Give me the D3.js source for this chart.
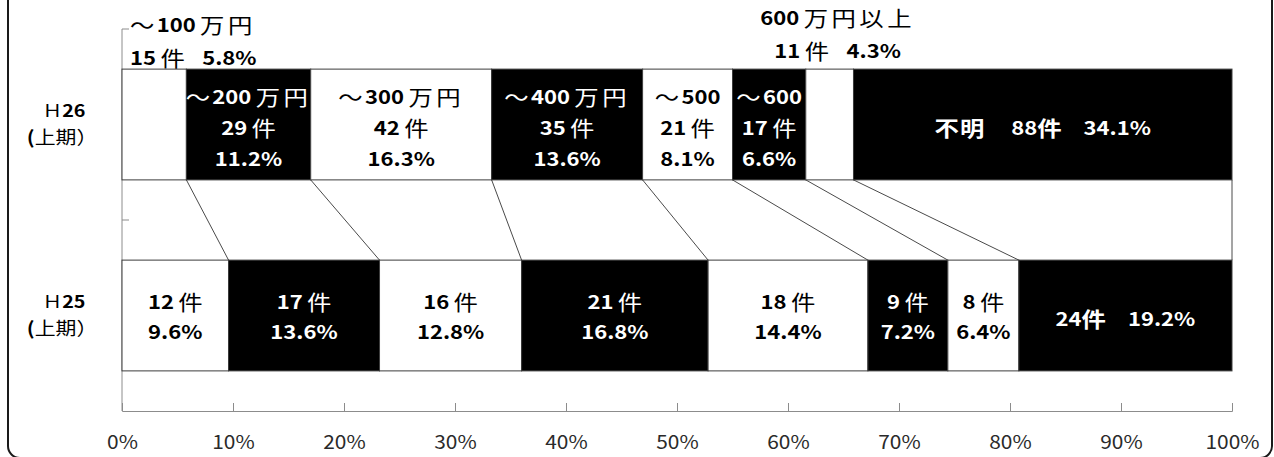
<!DOCTYPE html>
<html>
<head>
<meta charset="utf-8">
<script src="https://cdn.jsdelivr.net/npm/d3@7"></script>
<style>
  html, body { margin: 0; padding: 0; background: #fff; }
  svg { display: block; }
  text { font-family: "Noto Sans CJK JP", "Noto Sans", sans-serif; }
</style>
</head>
<body>
<svg id="chart" width="1274" height="457"></svg>
<script>
// Income bands (keys of the stack) and the two half-year periods
const categories = ["H26", "H25"];
const categoryLabels = ["Ｈ26", "Ｈ25"];
const bandNames = ["〜100万円", "〜200万円", "〜300万円", "〜400万円", "〜500万円", "〜600万円", "600万円以上", "不明"];

// Cases and shares per band
const h26Counts = [15, 29, 42, 35, 21, 17, 11, 88];
const h26Shares = [5.8, 11.2, 16.3, 13.6, 8.1, 6.6, 4.3, 34.1];
const h25Counts = [12, 17, 16, 21, 18, 9, 8, 24];
const h25Shares = [9.6, 13.6, 12.8, 16.8, 14.4, 7.2, 6.4, 19.2];

// Percentage axis ticks
const tickValues = [0, 10, 20, 30, 40, 50, 60, 70, 80, 90, 100];

const svg = d3.select("#chart");
const plotL = 122, plotR = 1232, plotT = 29, plotB = 411;
const SX = 1.16; // horizontal text stretch

// outer rounded frame
svg.append("rect")
  .attr("x", 8).attr("y", -30).attr("width", 1264).attr("height", 488)
  .attr("rx", 12).attr("ry", 12)
  .attr("fill", "none").attr("stroke", "#1a1a1a").attr("stroke-width", 2);

const x = d3.scaleLinear().domain([0, 100]).range([plotL, plotR]);
const y = d3.scaleBand().domain(categories).range([plotT, plotB])
  .paddingInner(0.42).paddingOuter(0.21);
const bw = y.bandwidth();

const rows = [
  Object.fromEntries(bandNames.map((k, i) => [k, h26Shares[i]])),
  Object.fromEntries(bandNames.map((k, i) => [k, h25Shares[i]]))
];
rows[0].cat = "H26"; rows[1].cat = "H25";

const stack = d3.stack().keys(bandNames)(rows);

// value axis along the bottom, ticks pointing into the plot
const axisG = svg.append("g").attr("transform", `translate(0,${plotB})`)
  .call(d3.axisBottom(x).tickValues(tickValues).tickSize(-8)
    .tickFormat(d => d + "%"));
axisG.select(".domain").attr("stroke", "#8c8c8c");
axisG.selectAll(".tick line").attr("stroke", "#8c8c8c");
axisG.selectAll(".tick text").remove();
axisG.selectAll(".tick").append("text")
  .attr("transform", "translate(0,30) scale(1.1,1)")
  .attr("text-anchor", "middle").attr("dominant-baseline", "central")
  .attr("font-size", 19).attr("fill", "#2a2a2a")
  .text(d => d + "%");

// category axis on the left with boundary ticks
svg.append("line").attr("x1", plotL).attr("x2", plotL).attr("y1", plotT).attr("y2", plotB)
  .attr("stroke", "#8c8c8c");
[0, 1].forEach(i => {
  const yy = plotT + i * y.step();
  svg.append("line").attr("x1", plotL).attr("x2", plotL + 7).attr("y1", yy).attr("y2", yy)
    .attr("stroke", "#8c8c8c");
});

// series lines joining segment ends of the two bars
stack.forEach(s => {
  svg.append("line")
    .attr("x1", x(s[0][1])).attr("y1", y("H26") + bw)
    .attr("x2", x(s[1][1])).attr("y2", y("H25"))
    .attr("stroke", "#4a4a4a").attr("stroke-width", 1);
});

// bar segments, alternating white / black
stack.forEach((s, i) => {
  svg.append("g").selectAll("rect").data(s).join("rect")
    .attr("x", d => x(d[0]))
    .attr("y", d => y(d.data.cat))
    .attr("width", d => x(d[1]) - x(d[0]))
    .attr("height", bw)
    .attr("fill", i % 2 ? "#000" : "#fff")
    .attr("stroke", "#3c3c3c").attr("stroke-width", 1);
});

// text made of runs: [text, bold, size, letterSpacing]
function label(px, py, runs, color, anchor) {
  const t = svg.append("text")
    .attr("transform", `translate(${px},${py}) scale(${SX},1)`)
    .attr("text-anchor", anchor || "middle")
    .attr("dominant-baseline", "central")
    .attr("fill", color);
  runs.forEach(r => {
    const ts = t.append("tspan").attr("font-weight", r[1] ? "bold" : "normal")
      .attr("font-size", r[2] || 19).text(r[0]);
    if (r[3]) ts.attr("letter-spacing", r[3]);
  });
  return t;
}
const CJK = 21;
const GAP = ["\u2009", false, 19];
function nameRuns(name, short) {
  const m = name.match(/^(〜?)(\d+)(.*)$/);
  const runs = [];
  if (m[1]) runs.push([m[1], false, CJK, 2]);
  runs.push([m[2], true, 19]);
  const rest = short ? "" : m[3];
  if (rest) runs.push(GAP, [rest, false, CJK, 3]);
  return runs;
}
function countRuns(n, boldUnit) {
  return [[String(n), true, 19], boldUnit ? ["", false, 1] : GAP, ["件", !!boldUnit, CJK]];
}
function shareRuns(p) { return [[p.toFixed(1) + "%", true, 19]]; }
const SPACE = ["\u3000", false, 15];
const WIDE = ["\u3000", false, 19];

// H26 labels
const yc26 = y("H26") + bw / 2;
stack.forEach((s, i) => {
  const d = s[0];
  const x0 = x(d[0]), x1 = x(d[1]), cx = (x0 + x1) / 2;
  const col = i % 2 ? "#fff" : "#000";
  const n = h26Counts[i], p = h26Shares[i];
  if (i === 0) {
    label(x0 + 8, plotT - 5, nameRuns(bandNames[i]), "#000", "start");
    label(x0 + 8, plotT + 28, countRuns(n).concat([SPACE], shareRuns(p)), "#000", "start");
  } else if (i === 6) {
    label(cx + 8, plotT - 12, [["600", true, 19], GAP, ["万円以上", false, CJK, 3]], "#000");
    label(cx + 8, plotT + 21, countRuns(n).concat([SPACE], shareRuns(p)), "#000");
  } else if (i === 7) {
    label(cx, yc26 + 2, [["不明", true, CJK, 1], ["\u3000", false, 22]].concat(
      countRuns(n, true), [WIDE], shareRuns(p)), col);
  } else {
    const short = (x1 - x0) < 100;
    label(cx, yc26 - 29, nameRuns(bandNames[i], short), col);
    label(cx, yc26 + 2, countRuns(n), col);
    label(cx, yc26 + 33, shareRuns(p), col);
  }
});

// H25 labels
const yc25 = y("H25") + bw / 2;
stack.forEach((s, i) => {
  const d = s[1];
  const cx = (x(d[0]) + x(d[1])) / 2;
  const col = i % 2 ? "#fff" : "#000";
  const n = h25Counts[i], p = h25Shares[i];
  if (i === 7) {
    label(cx, yc25 + 2, countRuns(n, true).concat([WIDE], shareRuns(p)), col);
  } else {
    label(cx, yc25 - 15, countRuns(n), col);
    label(cx, yc25 + 15, shareRuns(p), col);
  }
});

// category labels
categories.forEach((c, i) => {
  const yc = y(c) + bw / 2;
  const txt = categoryLabels[i];
  label(64, yc - 15, [[txt[0], false, 17], [txt.slice(1), true, 17]], "#000");
  label(62, yc + 11, [["(", true, 18], ["上期）", false, 18]], "#000");
});
</script>
</body>
</html>
